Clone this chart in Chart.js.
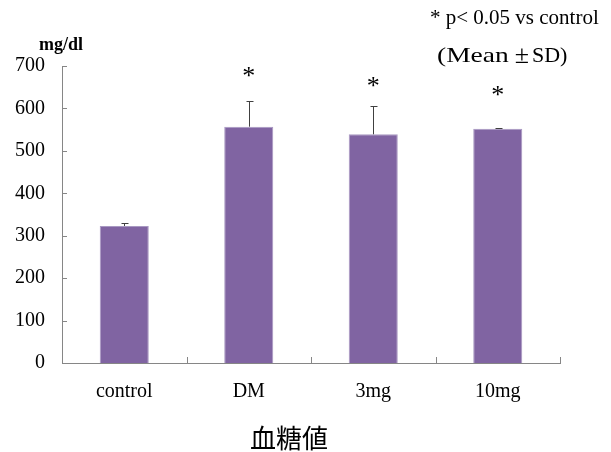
<!DOCTYPE html>
<html>
<head>
<meta charset="utf-8">
<script src="https://cdn.jsdelivr.net/npm/chart.js@4/dist/chart.umd.min.js"></script>
<style>
  html, body { margin: 0; padding: 0; background: #fff; }
  #wrap { width: 611px; height: 452px; position: relative; }
</style>
</head>
<body>
<div id="wrap"><canvas id="glucoseChart"></canvas></div>
<script>
// Blood glucose per group (mg/dl)
const groups = ['control', 'DM', '3mg', '10mg'];
const means = [323, 557, 539, 552];
const sds = [6, 60, 66, 1];
// significance marks and the level (mg/dl) each one sits at
const starMarks = ['', '*', '*', '*'];
const starLevels = [null, 683, 660, 639];
const yTicks = [0, 100, 200, 300, 400, 500, 600, 700];

const SERIF = '"Liberation Serif", "DejaVu Serif", serif';
const AXIS_GREY = '#868686';

// error bars, inward tick marks, asterisks and free text
const decorations = {
  id: 'decorations',
  afterDatasetsDraw(chart) {
    const { ctx, chartArea: area, scales: { x, y } } = chart;
    ctx.save();

    // tick marks pointing into the plot
    ctx.strokeStyle = AXIS_GREY;
    ctx.lineWidth = 1;
    ctx.beginPath();
    yTicks.forEach(v => {
      const py = Math.round(y.getPixelForValue(v)) + 0.5;
      ctx.moveTo(area.left, py);
      ctx.lineTo(area.left + 5, py);
    });
    const step = (area.right - area.left) / groups.length;
    for (let i = 1; i <= groups.length; i++) {
      const px = Math.round(area.left + step * i) + 0.5;
      ctx.moveTo(px, area.bottom);
      ctx.lineTo(px, area.bottom - 6);
    }
    ctx.stroke();

    // error bars (mean + SD only)
    ctx.strokeStyle = '#404040';
    ctx.beginPath();
    means.forEach((m, i) => {
      const px = Math.round(x.getPixelForValue(i)) + 0.5;
      const top = y.getPixelForValue(m + sds[i]);
      const base = y.getPixelForValue(m);
      ctx.moveTo(px, base);
      ctx.lineTo(px, top);
      ctx.moveTo(px - 3, Math.round(top) + 0.5);
      ctx.lineTo(px + 4, Math.round(top) + 0.5);
    });
    ctx.stroke();

    // asterisks
    ctx.fillStyle = '#000';
    ctx.font = '26px ' + SERIF;
    ctx.textAlign = 'center';
    ctx.textBaseline = 'middle';
    starMarks.forEach((s, i) => {
      if (!s) return;
      ctx.fillText(s, x.getPixelForValue(i), y.getPixelForValue(starLevels[i]) + 4);
    });

    // unit label
    ctx.font = 'bold 18px ' + SERIF;
    ctx.textAlign = 'left';
    ctx.fillText('mg/dl', 39, 45);

    // legend note
    ctx.font = '21px ' + SERIF;
    ctx.fillText('* p< 0.05 vs control', 430, 18);
    ctx.font = '22px ' + SERIF;
    ctx.save();
    ctx.translate(437, 56);
    ctx.scale(1.25, 1);
    ctx.fillText('(Mean', 0, 0);
    ctx.restore();
    ctx.fillText('SD)', 532, 56);
    ctx.font = '26px ' + SERIF;
    ctx.textAlign = 'center';
    ctx.fillText('\u00b1', 522, 56);

    // x axis title
    ctx.font = '26px "Noto Sans CJK JP", sans-serif';
    ctx.fillText('血糖値', 289, 438);

    ctx.restore();
  }
};

new Chart(document.getElementById('glucoseChart'), {
  type: 'bar',
  data: {
    labels: groups,
    datasets: [{
      data: means,
      backgroundColor: '#8064A2',
      borderColor: '#A898C2',
      borderWidth: 1,
      categoryPercentage: 1,
      barPercentage: 0.394
    }]
  },
  options: {
    responsive: true,
    maintainAspectRatio: false,
    animation: false,
    layout: { padding: { top: 66, right: 51, left: 0, bottom: 0 } },
    plugins: {
      legend: { display: false },
      tooltip: { enabled: false }
    },
    scales: {
      x: {
        grid: { display: false, drawTicks: false },
        border: { display: true, color: AXIS_GREY, width: 1 },
        ticks: {
          color: '#000',
          font: { family: SERIF, size: 20 },
          padding: 17,
          maxRotation: 0
        },
        afterFit: scale => { scale.height = 89; }
      },
      y: {
        min: 0,
        max: 700,
        grid: { display: false, drawTicks: false },
        border: { display: true, color: AXIS_GREY, width: 1 },
        ticks: {
          stepSize: 100,
          color: '#000',
          font: { family: SERIF, size: 20 },
          padding: 17
        },
        afterFit: scale => { scale.width = 62; }
      }
    }
  },
  plugins: [decorations]
});
</script>
</body>
</html>
